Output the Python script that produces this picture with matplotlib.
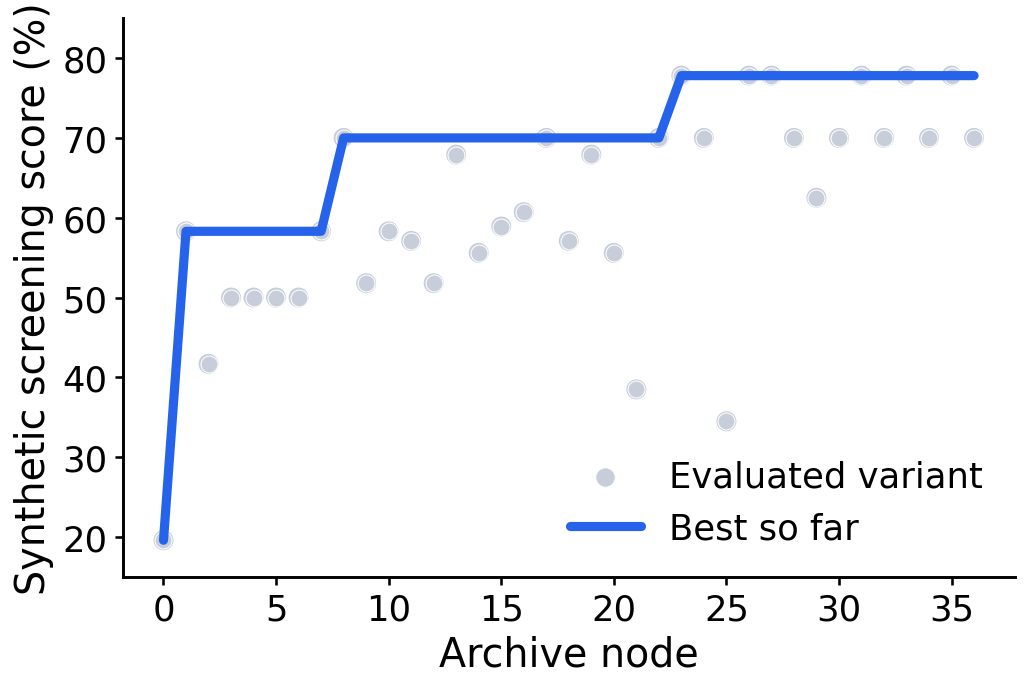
import numpy as np
import matplotlib
matplotlib.use("Agg")
import matplotlib.pyplot as plt

# Puntuación de cada variante evaluada, por nodo del archivo
nodes = list(range(37))
scores = [
    19.6, 58.3, 41.7, 50.0, 50.0, 50.0, 50.0, 58.3, 70.0, 51.8,
    58.3, 57.1, 51.8, 67.9, 55.6, 58.9, 60.7, 70.0, 57.1, 67.9,
    55.6, 38.5, 70.0, 77.8, 70.0, 34.5, 77.8, 77.8, 70.0, 62.5,
    70.0, 77.8, 70.0, 77.8, 70.0, 77.8, 70.0,
]
best = np.maximum.accumulate(scores)

GREY = "#c8ced9"
BLUE = "#2563eb"

plt.rcParams["font.family"] = "DejaVu Sans"
fig, ax = plt.subplots(figsize=(6.86, 4.56), dpi=150)
fig.subplots_adjust(left=0.1195, right=0.986, bottom=0.155, top=0.972)

ax.scatter(nodes, scores, s=92, color=GREY, edgecolors="none", zorder=2)
ax.scatter(nodes, scores, s=66, color=GREY, edgecolors="white",
           linewidths=0.5, zorder=2, label="Evaluated variant")
ax.plot(nodes, best, color=BLUE, lw=4.4, solid_capstyle="round",
        solid_joinstyle="round", zorder=3, label="Best so far")

ax.set_ylim(15, 85)
ax.set_xlabel("Archive node", fontsize=19)
ax.set_ylabel("Synthetic screening score (%)", fontsize=19)
ax.tick_params(labelsize=17, width=1.25, length=4)
for side in ("top", "right"):
    ax.spines[side].set_visible(False)
for side in ("left", "bottom"):
    ax.spines[side].set_linewidth(1.4)

ax.legend(loc="lower right", frameon=False, fontsize=17, markerscale=1.15)

plt.savefig("out.png", dpi=150)
